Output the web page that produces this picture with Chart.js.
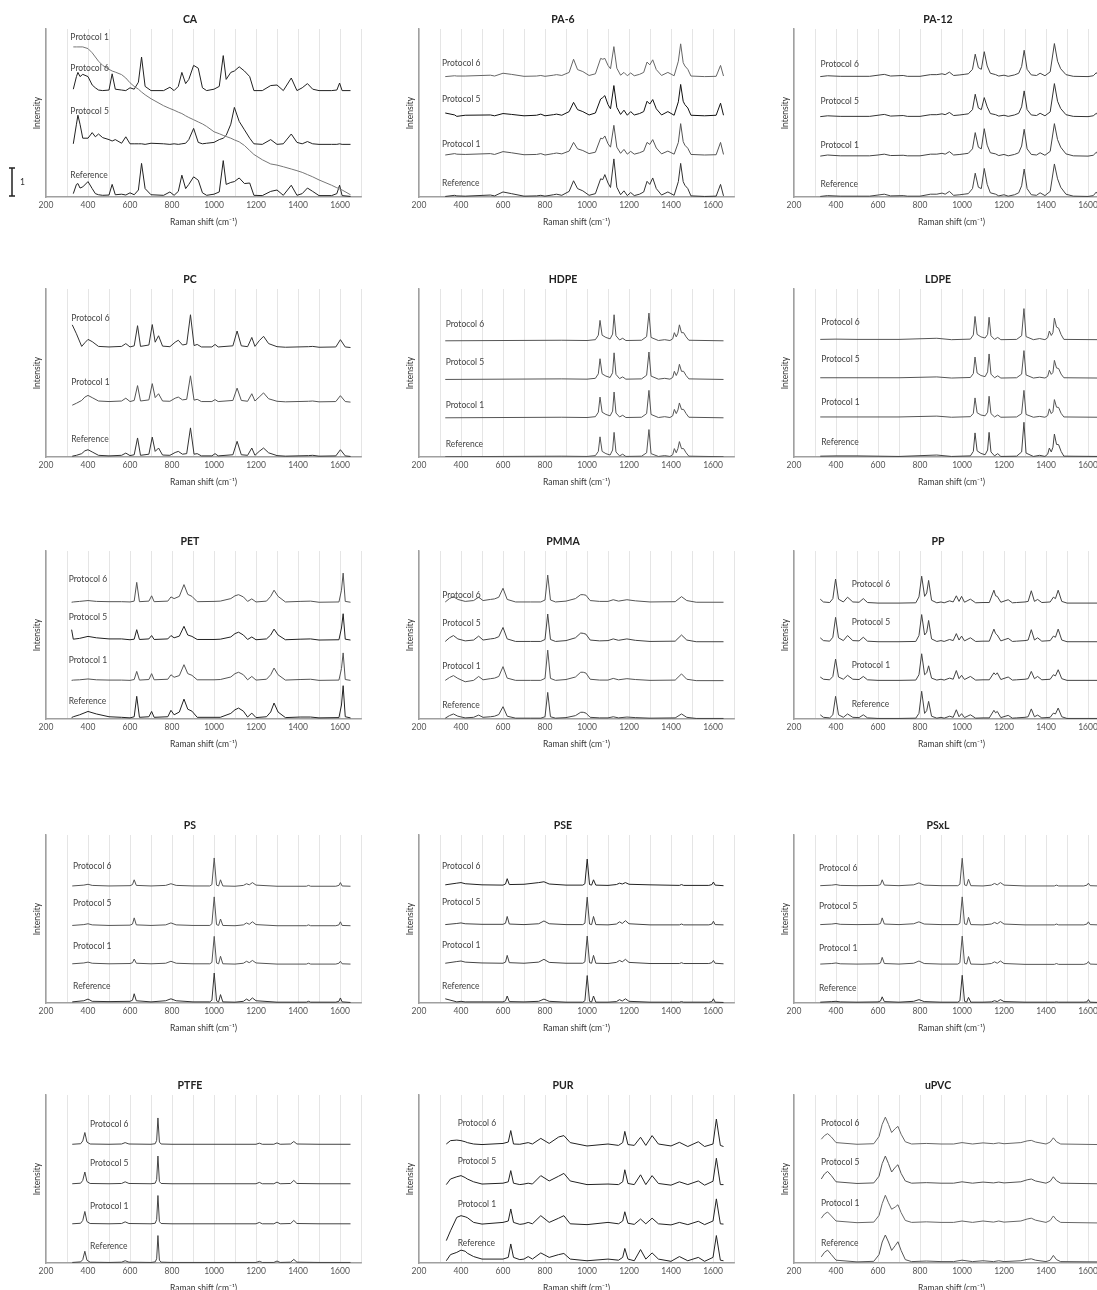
<!DOCTYPE html>
<html lang="en">
<head>
  <meta charset="UTF-8" />
  <title>Raman spectra – protocols vs reference</title>
  <script src="https://cdn.jsdelivr.net/npm/chart.js@4.4.1/dist/chart.umd.min.js"></script>
  <style>
    html, body { margin: 0; padding: 0; background: #fff; }
    body { position: relative; width: 1097px; height: 1290px; overflow: hidden; }
    canvas { position: absolute; }
  </style>
</head>
<body>
<script>
  // ---- data (Raman shift in cm-1, intensity in offset units) ----
  const xTicks = [200, 400, 600, 800, 1000, 1200, 1400, 1600];

  // CA
  const caShift = [330,345,352,362,375,400,420,435,450,470,500,515,530,560,580,600,620,640,655,672,700,760,790,810,830,847,865,880,903,925,945,965,1000,1025,1044,1058,1080,1097,1120,1145,1170,1190,1230,1270,1300,1330,1368,1395,1420,1445,1470,1500,1560,1585,1598,1610,1650];
  const caRef = [0.12,0.45,0.48,0.32,0.36,0.55,0.3,0.12,0.08,0.06,0.07,0.45,0.08,0.1,0.07,0.15,0.08,0.25,1.2,0.3,0.08,0.06,0.18,0.06,0.2,0.78,0.3,0.45,0.72,0.6,0.15,0.06,0.1,0.18,1.3,0.45,0.52,0.55,0.68,0.48,0.5,0.06,0.05,0.2,0.25,0.06,0.42,0.06,0.12,0.32,0.2,0.05,0.05,0.12,0.42,0.05,0.02];
  const caP6 = [3.85,4.3,4.45,4.3,4.38,4.3,4.0,3.9,3.82,3.8,3.82,4.4,3.85,3.82,3.8,3.9,3.85,4.1,5.0,3.95,3.8,3.8,3.92,3.8,3.95,4.45,4.05,4.2,4.7,4.6,3.9,3.8,3.85,3.95,5.05,4.2,4.45,4.5,4.65,4.5,4.3,3.8,3.8,3.98,4.0,3.8,4.25,3.8,3.9,4.05,3.85,3.8,3.8,3.82,4.07,3.8,3.8];
  const caP5 = [1.9,2.6,2.92,2.6,2.1,2.1,2.3,2.15,2.25,2.12,2.05,2.0,2.05,1.92,2.15,1.9,1.9,1.9,1.9,1.88,1.92,1.9,1.88,1.9,1.88,1.9,1.92,2.05,2.45,1.95,1.9,1.92,1.95,2.05,2.1,2.2,2.6,3.2,2.7,2.4,2.1,1.9,1.88,2.05,1.88,1.9,2.25,1.95,1.9,1.98,1.9,1.88,1.88,1.88,1.9,1.88,1.88];
  const caP1 = [5.36,5.36,5.36,5.36,5.36,5.3,5.15,5.0,4.85,4.7,4.56,4.5,4.46,4.37,4.25,4.08,3.95,3.85,3.75,3.65,3.51,3.26,3.16,3.1,3.03,2.98,2.9,2.84,2.76,2.68,2.61,2.52,2.33,2.26,2.2,2.16,2.1,2.04,1.97,1.84,1.66,1.52,1.33,1.18,1.14,1.08,1.0,0.94,0.88,0.8,0.72,0.61,0.42,0.33,0.29,0.25,0.08];

  // PA-6
  const paShift = [325,370,380,420,540,560,600,640,700,760,780,800,840,855,880,915,936,955,980,1010,1040,1065,1075,1085,1100,1112,1128,1142,1160,1176,1192,1208,1225,1250,1270,1286,1299,1313,1330,1355,1385,1415,1435,1446,1458,1466,1480,1495,1560,1615,1636,1650];
  const paRef = [0.02,0.06,0.04,0.03,0.07,0.04,0.18,0.12,0.03,0.04,0.06,0.03,0.08,0.1,0.06,0.2,0.58,0.3,0.22,0.06,0.12,0.65,0.62,0.8,0.5,0.34,1.36,0.35,0.08,0.22,0.05,0.16,0.05,0.1,0.18,0.56,0.45,0.68,0.3,0.07,0.18,0.06,0.55,1.2,0.55,0.42,0.3,0.04,0.02,0.03,0.45,0.04];
  const paP1 = [1.5,1.55,1.53,1.52,1.55,1.52,1.62,1.58,1.51,1.52,1.55,1.5,1.55,1.57,1.54,1.64,1.95,1.72,1.66,1.55,1.6,2.1,2.08,2.18,1.9,1.78,2.56,1.78,1.56,1.7,1.53,1.63,1.53,1.58,1.64,1.95,1.88,2.05,1.75,1.54,1.64,1.53,1.95,2.62,1.98,1.85,1.74,1.52,1.5,1.51,1.95,1.52];
  const paP5 = [3.0,2.93,2.88,2.92,2.93,2.9,2.98,2.95,2.9,2.92,2.96,2.9,2.94,2.96,2.92,3.05,3.38,3.12,3.05,2.93,3.0,3.5,3.55,3.62,3.3,3.15,3.98,3.2,2.95,3.1,2.92,3.05,2.93,2.98,3.05,3.42,3.32,3.48,3.15,2.93,3.05,2.92,3.4,4.02,3.42,3.3,3.18,2.92,2.9,2.92,3.35,2.92];
  const paP6 = [4.3,4.33,4.32,4.32,4.35,4.32,4.42,4.38,4.31,4.32,4.34,4.31,4.35,4.37,4.34,4.45,4.92,4.55,4.48,4.34,4.4,4.95,4.92,4.95,4.7,4.58,5.37,4.6,4.35,4.45,4.33,4.43,4.33,4.38,4.45,4.82,4.72,4.9,4.55,4.34,4.45,4.33,4.85,5.47,4.8,4.68,4.56,4.32,4.3,4.31,4.7,4.32];

  // PA-12
  const pa12Shift = [325,360,420,560,600,630,660,720,740,800,850,880,905,920,940,960,990,1010,1030,1050,1063,1078,1092,1106,1120,1135,1160,1175,1200,1220,1250,1270,1284,1296,1310,1330,1355,1372,1395,1420,1440,1455,1470,1495,1530,1600,1625,1640,1650];
  const pa12Ref = [0.02,0.05,0.03,0.03,0.07,0.1,0.04,0.05,0.03,0.03,0.1,0.1,0.14,0.1,0.2,0.06,0.08,0.1,0.12,0.3,0.85,0.35,0.3,1.02,0.45,0.15,0.1,0.04,0.08,0.03,0.08,0.15,0.4,1.0,0.3,0.08,0.06,0.15,0.05,0.2,1.18,0.65,0.35,0.1,0.03,0.02,0.05,0.18,0.05];
  const pa12P1 = [1.46,1.5,1.47,1.47,1.5,1.53,1.48,1.49,1.47,1.47,1.53,1.53,1.56,1.53,1.62,1.5,1.52,1.54,1.56,1.72,2.3,1.78,1.72,2.44,1.85,1.58,1.54,1.48,1.52,1.47,1.52,1.58,1.82,2.42,1.72,1.52,1.5,1.58,1.49,1.63,2.62,2.05,1.78,1.54,1.47,1.46,1.49,1.6,1.49];
  const pa12P5 = [2.87,2.9,2.88,2.88,2.92,2.95,2.89,2.91,2.88,2.88,2.94,2.94,2.97,2.94,3.02,2.91,2.93,2.95,2.97,3.12,3.67,3.18,3.12,3.55,3.22,2.98,2.94,2.89,2.92,2.88,2.93,2.99,3.22,3.79,3.12,2.93,2.91,2.99,2.9,3.04,4.05,3.42,3.16,2.94,2.88,2.87,2.9,2.99,2.89];
  const pa12P6 = [4.3,4.33,4.31,4.31,4.35,4.38,4.32,4.34,4.31,4.31,4.37,4.37,4.4,4.37,4.46,4.34,4.36,4.38,4.4,4.56,5.1,4.62,4.56,5.19,4.68,4.42,4.37,4.32,4.35,4.31,4.36,4.42,4.66,5.24,4.56,4.36,4.34,4.42,4.33,4.47,5.48,4.85,4.58,4.37,4.31,4.3,4.33,4.44,4.32];

  // PC
  const pcShift = [325,345,370,385,400,420,450,500,560,580,600,620,636,650,690,706,720,736,755,790,815,830,850,870,888,905,920,940,990,1005,1020,1090,1110,1130,1160,1180,1195,1215,1236,1260,1300,1340,1450,1470,1500,1580,1602,1625,1650];
  const pcRef = [0.03,0.06,0.12,0.22,0.26,0.18,0.06,0.04,0.06,0.14,0.05,0.08,0.68,0.06,0.1,0.71,0.2,0.32,0.07,0.06,0.16,0.2,0.1,0.12,1.04,0.1,0.12,0.04,0.04,0.12,0.04,0.08,0.56,0.08,0.06,0.32,0.06,0.2,0.32,0.15,0.05,0.03,0.05,0.06,0.03,0.04,0.26,0.04,0.02];
  const pcP1 = [1.85,1.92,2.02,2.14,2.2,2.12,2.0,1.98,2.0,2.1,1.98,2.02,2.55,2.0,2.04,2.62,2.12,2.26,2.0,1.99,2.1,2.14,2.04,2.06,2.9,2.03,2.06,1.98,1.98,2.05,1.98,2.02,2.46,2.02,1.99,2.26,2.0,2.14,2.29,2.08,1.99,1.97,1.99,2.0,1.97,1.98,2.19,1.98,1.96];
  const pcP6 = [4.72,4.4,3.95,4.08,4.2,4.12,3.95,3.93,3.95,4.05,3.93,3.97,4.69,3.95,4.0,4.73,4.1,4.33,3.96,3.94,4.1,4.17,4.0,4.03,5.08,3.98,4.02,3.93,3.93,4.02,3.93,3.97,4.5,3.97,3.94,4.27,3.95,4.15,4.31,4.05,3.94,3.92,3.94,3.95,3.92,3.93,4.19,3.93,3.91];

  // HDPE
  const hdShift = [325,600,880,1000,1040,1054,1062,1072,1090,1110,1122,1129,1138,1155,1170,1185,1260,1284,1295,1305,1340,1370,1395,1408,1416,1425,1433,1440,1450,1460,1472,1485,1650];
  const hdRef = [0.01,0.02,0.03,0.02,0.05,0.2,0.72,0.2,0.12,0.07,0.25,0.88,0.18,0.04,0.1,0.02,0.03,0.15,0.98,0.12,0.02,0.05,0.02,0.08,0.3,0.15,0.3,0.55,0.3,0.3,0.15,0.03,0.01];
  const hdP1 = [1.4,1.41,1.42,1.41,1.44,1.6,2.14,1.6,1.52,1.47,1.64,2.32,1.57,1.43,1.49,1.41,1.42,1.55,2.38,1.52,1.41,1.44,1.41,1.47,1.7,1.55,1.68,1.93,1.7,1.7,1.55,1.42,1.4];
  const hdP5 = [2.77,2.78,2.79,2.78,2.81,2.97,3.51,2.97,2.89,2.84,3.01,3.72,2.95,2.8,2.86,2.78,2.79,2.92,3.75,2.89,2.78,2.81,2.78,2.84,3.06,2.91,3.04,3.31,3.06,3.06,2.91,2.79,2.77];
  const hdP6 = [4.15,4.16,4.17,4.16,4.19,4.35,4.88,4.35,4.27,4.22,4.39,5.08,4.33,4.18,4.24,4.16,4.17,4.3,5.14,4.27,4.16,4.19,4.16,4.22,4.44,4.29,4.42,4.72,4.44,4.44,4.29,4.17,4.15];

  // LDPE
  const ldShift = [325,400,500,700,880,950,1040,1054,1062,1072,1090,1110,1122,1129,1138,1155,1170,1185,1260,1284,1295,1305,1340,1370,1395,1408,1416,1425,1433,1440,1450,1460,1472,1485,1650];
  const ldRef = [0.03,0.04,0.04,0.02,0.07,0.02,0.04,0.2,0.86,0.22,0.13,0.08,0.25,0.88,0.18,0.04,0.12,0.02,0.03,0.18,1.24,0.14,0.02,0.06,0.02,0.1,0.32,0.18,0.35,0.82,0.45,0.44,0.2,0.03,0.02];
  const ldP1 = [1.43,1.43,1.43,1.43,1.46,1.42,1.44,1.56,2.11,1.58,1.5,1.47,1.6,2.17,1.55,1.43,1.5,1.42,1.43,1.55,2.38,1.52,1.42,1.45,1.42,1.48,1.72,1.55,1.62,2.05,1.78,1.77,1.56,1.43,1.42];
  const ldP5 = [2.83,2.83,2.83,2.83,2.86,2.82,2.84,2.98,3.57,3.0,2.91,2.87,3.04,3.68,2.96,2.83,2.9,2.82,2.83,2.96,3.8,2.93,2.82,2.85,2.82,2.88,3.1,2.95,3.02,3.45,3.18,3.16,2.96,2.83,2.82];
  const ldP6 = [4.2,4.21,4.2,4.2,4.24,4.19,4.21,4.36,5.02,4.38,4.29,4.25,4.38,4.99,4.33,4.2,4.27,4.19,4.2,4.33,5.3,4.3,4.19,4.23,4.19,4.26,4.5,4.34,4.44,4.96,4.64,4.6,4.37,4.2,4.19];

  // PET
  const petShift = [322,330,360,400,440,500,560,600,620,632,645,690,703,715,780,795,810,835,857,875,895,920,1000,1030,1080,1100,1117,1140,1160,1180,1200,1250,1270,1286,1305,1340,1410,1460,1500,1595,1607,1615,1625,1650];
  const petRef = [0.05,0.08,0.15,0.27,0.18,0.08,0.06,0.04,0.08,0.81,0.06,0.08,0.27,0.06,0.08,0.31,0.15,0.25,0.71,0.35,0.28,0.06,0.06,0.06,0.2,0.33,0.39,0.28,0.07,0.21,0.05,0.08,0.25,0.57,0.25,0.05,0.07,0.07,0.04,0.05,0.5,1.19,0.08,0.04];
  const petP1 = [1.38,1.39,1.4,1.43,1.4,1.39,1.39,1.38,1.41,1.7,1.39,1.41,1.62,1.4,1.42,1.58,1.49,1.55,1.94,1.62,1.56,1.4,1.4,1.41,1.5,1.62,1.67,1.58,1.4,1.52,1.39,1.42,1.58,1.82,1.58,1.39,1.41,1.42,1.38,1.39,1.8,2.36,1.41,1.38];
  const petP5 = [3.19,2.85,2.88,2.95,2.9,2.86,2.86,2.83,2.85,3.19,2.84,2.86,2.98,2.84,2.86,2.98,2.9,2.96,3.31,3.0,2.95,2.84,2.84,2.85,2.93,3.05,3.1,3.0,2.84,2.93,2.83,2.86,3.0,3.21,3.0,2.83,2.85,2.86,2.82,2.83,3.25,3.76,2.85,2.82];
  const petP6 = [4.17,4.18,4.2,4.23,4.2,4.19,4.19,4.18,4.21,4.88,4.19,4.21,4.4,4.19,4.21,4.36,4.3,4.38,4.8,4.45,4.38,4.19,4.2,4.21,4.3,4.4,4.44,4.36,4.2,4.29,4.18,4.21,4.38,4.6,4.38,4.18,4.2,4.21,4.17,4.18,4.6,5.21,4.2,4.17];

  // PMMA
  const pmShift = [325,345,364,385,420,460,484,505,540,560,580,600,620,660,730,780,800,813,826,850,900,945,970,982,995,1015,1060,1100,1125,1150,1190,1230,1300,1420,1450,1475,1520,1650];
  const pmRef = [0.03,0.12,0.18,0.1,0.04,0.06,0.14,0.06,0.08,0.1,0.16,0.44,0.1,0.03,0.03,0.03,0.08,0.95,0.08,0.03,0.05,0.12,0.24,0.24,0.21,0.06,0.04,0.04,0.08,0.04,0.07,0.05,0.03,0.04,0.18,0.06,0.02,0.02];
  const pmP1 = [1.38,1.48,1.55,1.45,1.33,1.38,1.52,1.4,1.44,1.46,1.52,1.87,1.46,1.38,1.38,1.38,1.45,2.46,1.45,1.38,1.41,1.5,1.67,1.67,1.64,1.42,1.39,1.39,1.45,1.4,1.44,1.41,1.38,1.39,1.61,1.42,1.37,1.37];
  const pmP5 = [2.77,2.9,2.98,2.86,2.79,2.82,2.96,2.82,2.86,2.88,2.94,3.27,2.86,2.77,2.77,2.77,2.84,3.75,2.84,2.77,2.8,2.9,3.07,3.06,3.03,2.82,2.79,2.8,2.86,2.81,2.86,2.81,2.77,2.78,3.0,2.82,2.76,2.76];
  const pmP6 = [4.18,4.3,4.37,4.27,4.2,4.23,4.35,4.23,4.27,4.29,4.35,4.67,4.27,4.18,4.18,4.18,4.25,5.14,4.25,4.18,4.21,4.3,4.44,4.44,4.42,4.23,4.2,4.2,4.26,4.21,4.26,4.22,4.18,4.19,4.37,4.23,4.17,4.17];

  // PP
  const ppShift = [325,340,370,385,398,412,435,455,480,510,530,550,600,700,780,795,808,822,832,841,855,880,900,915,941,958,973,986,998,1012,1040,1065,1100,1130,1152,1160,1168,1185,1220,1240,1260,1300,1315,1330,1345,1360,1380,1420,1435,1445,1458,1475,1500,1650];
  const ppRef = [0.15,0.06,0.04,0.15,0.81,0.15,0.06,0.18,0.06,0.05,0.15,0.04,0.02,0.02,0.03,0.2,0.99,0.2,0.3,0.63,0.1,0.03,0.06,0.03,0.1,0.06,0.33,0.08,0.19,0.05,0.15,0.03,0.04,0.04,0.31,0.22,0.27,0.05,0.13,0.03,0.04,0.06,0.08,0.36,0.08,0.14,0.04,0.06,0.21,0.18,0.39,0.08,0.02,0.02];
  const ppP1 = [1.5,1.42,1.4,1.52,2.14,1.5,1.42,1.56,1.42,1.41,1.52,1.4,1.38,1.38,1.39,1.58,2.33,1.58,1.65,1.9,1.46,1.39,1.42,1.39,1.46,1.42,1.73,1.44,1.56,1.41,1.52,1.39,1.4,1.4,1.65,1.58,1.65,1.41,1.5,1.39,1.4,1.42,1.44,1.7,1.44,1.52,1.4,1.42,1.58,1.54,1.76,1.44,1.38,1.38];
  const ppP5 = [2.9,2.8,2.78,2.92,3.63,2.9,2.8,2.98,2.8,2.79,2.92,2.78,2.76,2.76,2.77,2.98,3.73,3.0,3.1,3.52,2.86,2.77,2.8,2.77,2.84,2.8,3.05,2.82,2.96,2.79,2.9,2.77,2.78,2.78,3.21,3.05,3.0,2.79,2.88,2.77,2.78,2.8,2.82,3.19,2.82,2.9,2.78,2.8,2.96,2.92,3.21,2.82,2.76,2.76];
  const ppP6 = [4.28,4.18,4.16,4.3,5.0,4.28,4.18,4.35,4.18,4.17,4.3,4.16,4.14,4.14,4.15,4.36,5.1,4.38,4.5,4.95,4.24,4.15,4.18,4.15,4.22,4.18,4.4,4.2,4.38,4.17,4.28,4.15,4.16,4.16,4.6,4.4,4.38,4.17,4.26,4.15,4.16,4.18,4.2,4.58,4.2,4.27,4.16,4.18,4.35,4.3,4.6,4.2,4.14,4.14];

  // PS, PSE, PSxL (same shift grid)
  const psShift = [325,380,400,420,500,600,612,620,630,700,770,795,820,900,980,990,1001,1012,1022,1031,1042,1100,1140,1155,1168,1183,1200,1300,1440,1450,1460,1580,1595,1602,1610,1650];
  const psRef = [0.04,0.08,0.14,0.06,0.05,0.06,0.1,0.33,0.08,0.04,0.08,0.15,0.08,0.04,0.04,0.1,1.07,0.08,0.04,0.3,0.04,0.03,0.06,0.14,0.08,0.18,0.08,0.03,0.03,0.06,0.03,0.03,0.06,0.18,0.04,0.02];
  const psP1 = [1.4,1.43,1.46,1.42,1.4,1.41,1.44,1.57,1.42,1.4,1.42,1.49,1.42,1.4,1.4,1.45,2.38,1.43,1.4,1.67,1.4,1.39,1.42,1.49,1.44,1.52,1.43,1.39,1.39,1.42,1.39,1.39,1.42,1.49,1.4,1.39];
  const psP5 = [2.77,2.8,2.83,2.79,2.77,2.78,2.82,3.04,2.79,2.77,2.79,2.86,2.79,2.77,2.77,2.83,3.79,2.8,2.77,3.0,2.77,2.76,2.79,2.86,2.81,2.9,2.8,2.76,2.76,2.79,2.76,2.76,2.79,2.9,2.77,2.76];
  const psP6 = [4.18,4.21,4.24,4.2,4.18,4.19,4.23,4.4,4.2,4.18,4.2,4.26,4.2,4.18,4.18,4.23,5.18,4.21,4.18,4.4,4.18,4.17,4.2,4.26,4.22,4.3,4.21,4.17,4.17,4.2,4.17,4.17,4.2,4.3,4.18,4.17];
  const pseRef = [0.15,0.04,0.06,0.04,0.04,0.04,0.08,0.25,0.05,0.04,0.06,0.14,0.06,0.03,0.03,0.08,0.98,0.06,0.03,0.25,0.03,0.03,0.05,0.12,0.07,0.15,0.06,0.03,0.03,0.05,0.03,0.03,0.05,0.15,0.03,0.02];
  const pseP1 = [1.42,1.48,1.5,1.46,1.43,1.42,1.46,1.7,1.44,1.42,1.46,1.56,1.45,1.42,1.42,1.47,2.39,1.44,1.42,1.7,1.42,1.41,1.45,1.52,1.47,1.56,1.45,1.41,1.41,1.44,1.41,1.41,1.44,1.52,1.42,1.4];
  const pseP5 = [2.8,2.84,2.86,2.83,2.81,2.81,2.85,3.09,2.82,2.8,2.83,2.93,2.83,2.8,2.8,2.85,3.78,2.82,2.8,3.09,2.8,2.79,2.82,2.9,2.84,2.94,2.83,2.79,2.79,2.82,2.79,2.79,2.82,2.92,2.8,2.79];
  const pseP6 = [4.22,4.28,4.3,4.26,4.22,4.21,4.25,4.44,4.23,4.24,4.3,4.33,4.25,4.21,4.21,4.26,5.14,4.23,4.21,4.4,4.21,4.2,4.23,4.28,4.25,4.3,4.24,4.22,4.2,4.23,4.2,4.2,4.23,4.32,4.21,4.19];
  const psxRef = [0.03,0.05,0.06,0.04,0.03,0.04,0.07,0.22,0.05,0.03,0.06,0.12,0.05,0.03,0.03,0.08,0.99,0.06,0.03,0.2,0.03,0.03,0.04,0.08,0.05,0.12,0.05,0.03,0.03,0.04,0.03,0.03,0.04,0.12,0.03,0.02];
  const psxP1 = [1.39,1.41,1.43,1.4,1.39,1.4,1.43,1.63,1.41,1.39,1.42,1.5,1.41,1.39,1.39,1.44,2.39,1.42,1.39,1.66,1.39,1.38,1.41,1.47,1.42,1.5,1.41,1.38,1.38,1.41,1.38,1.38,1.41,1.48,1.39,1.38];
  const psxP5 = [2.8,2.82,2.84,2.81,2.8,2.81,2.84,3.04,2.82,2.8,2.83,2.9,2.82,2.8,2.8,2.85,3.79,2.83,2.8,3.06,2.8,2.79,2.82,2.88,2.83,2.91,2.82,2.79,2.79,2.82,2.79,2.79,2.82,2.9,2.8,2.79];
  const psxP6 = [4.19,4.21,4.23,4.2,4.19,4.2,4.23,4.4,4.21,4.19,4.22,4.29,4.21,4.19,4.19,4.24,5.17,4.22,4.19,4.42,4.19,4.18,4.21,4.27,4.22,4.3,4.21,4.18,4.18,4.21,4.18,4.18,4.21,4.28,4.19,4.18];

  // PTFE
  const ptShift = [325,365,375,385,395,410,500,560,577,595,700,720,727,733,740,748,800,1000,1200,1216,1230,1285,1300,1315,1365,1380,1395,1500,1650];
  const ptRef = [0.02,0.04,0.12,0.42,0.1,0.03,0.02,0.03,0.08,0.03,0.02,0.04,0.15,0.98,0.1,0.03,0.02,0.02,0.02,0.06,0.02,0.02,0.07,0.02,0.03,0.13,0.03,0.02,0.02];
  const ptP1 = [1.4,1.42,1.52,1.84,1.48,1.41,1.4,1.41,1.47,1.41,1.4,1.42,1.55,2.41,1.48,1.41,1.4,1.4,1.4,1.45,1.4,1.4,1.46,1.4,1.41,1.52,1.41,1.4,1.4];
  const ptP5 = [2.83,2.85,2.95,3.25,2.91,2.84,2.83,2.84,2.9,2.84,2.83,2.85,2.98,3.82,2.91,2.84,2.83,2.83,2.83,2.88,2.83,2.83,2.89,2.83,2.84,2.95,2.84,2.83,2.83];
  const ptP6 = [4.24,4.26,4.36,4.66,4.32,4.25,4.24,4.25,4.3,4.25,4.24,4.26,4.38,5.18,4.32,4.25,4.24,4.24,4.24,4.28,4.24,4.24,4.29,4.24,4.25,4.34,4.25,4.24,4.24];

  // PUR
  const purShift = [330,350,380,400,420,430,460,500,600,625,637,650,680,700,720,740,780,820,865,890,920,1000,1100,1150,1170,1180,1195,1225,1255,1280,1310,1340,1400,1440,1480,1530,1560,1600,1616,1635,1650];
  const purRef = [0.08,0.3,0.38,0.46,0.42,0.35,0.23,0.14,0.14,0.2,0.68,0.2,0.12,0.14,0.23,0.14,0.36,0.2,0.3,0.34,0.14,0.08,0.14,0.1,0.2,0.52,0.14,0.08,0.48,0.14,0.36,0.14,0.06,0.23,0.08,0.2,0.06,0.2,0.98,0.1,0.08];
  const purP1 = [0.8,1.15,1.63,1.69,1.65,1.62,1.45,1.39,1.45,1.5,1.93,1.45,1.38,1.4,1.45,1.4,1.69,1.45,1.6,1.69,1.4,1.37,1.45,1.4,1.5,1.83,1.42,1.38,1.57,1.4,1.6,1.4,1.36,1.45,1.37,1.49,1.37,1.5,2.29,1.4,1.39];
  const purP5 = [2.8,3.0,3.08,3.12,3.05,3.0,2.9,2.82,2.85,2.9,3.3,2.85,2.8,2.82,2.85,2.82,3.12,2.93,3.1,3.2,2.93,2.8,2.82,2.8,2.9,3.33,2.84,2.8,3.15,2.8,3.12,2.84,2.78,2.9,2.8,2.93,2.78,2.92,3.74,2.8,2.8];
  const purP6 = [4.25,4.37,4.39,4.37,4.33,4.3,4.25,4.23,4.27,4.32,4.73,4.25,4.24,4.27,4.3,4.25,4.45,4.27,4.5,4.55,4.3,4.18,4.25,4.2,4.3,4.7,4.23,4.2,4.49,4.2,4.55,4.25,4.18,4.31,4.16,4.33,4.16,4.25,5.14,4.2,4.16];

  // uPVC
  const upShift = [330,345,360,378,400,500,580,605,620,635,650,665,682,695,710,730,760,830,900,960,1000,1050,1100,1150,1175,1200,1280,1310,1330,1350,1400,1420,1435,1450,1470,1650];
  const upRef = [0.22,0.38,0.46,0.3,0.1,0.04,0.06,0.3,0.75,1.0,0.75,0.45,0.62,0.76,0.45,0.12,0.05,0.07,0.05,0.05,0.1,0.05,0.08,0.05,0.08,0.05,0.08,0.13,0.15,0.1,0.05,0.1,0.27,0.12,0.05,0.04];
  const upP1 = [1.6,1.75,1.82,1.68,1.5,1.44,1.46,1.7,2.12,2.42,2.15,1.92,2.0,2.08,1.8,1.52,1.45,1.47,1.45,1.45,1.5,1.45,1.5,1.46,1.5,1.46,1.5,1.57,1.6,1.53,1.45,1.52,1.68,1.54,1.45,1.43];
  const upP5 = [3.0,3.18,3.27,3.12,2.9,2.84,2.86,3.1,3.55,3.82,3.55,3.25,3.42,3.51,3.2,2.93,2.85,2.87,2.85,2.85,2.9,2.85,2.89,2.86,2.89,2.86,2.9,2.97,3.0,2.93,2.85,2.92,3.08,2.94,2.85,2.83];
  const upP6 = [4.42,4.55,4.62,4.5,4.3,4.24,4.26,4.52,4.95,5.21,4.95,4.66,4.8,4.88,4.6,4.33,4.25,4.27,4.25,4.25,4.3,4.25,4.29,4.26,4.29,4.26,4.3,4.36,4.38,4.32,4.25,4.32,4.47,4.33,4.25,4.23];

  // ---- panels: [trace name, values, label height, line colour] ----
  const panels = [
    { title: 'CA', shift: caShift, labelX: 316, bar: true, traces: [
      ['Protocol 1', caP1, 5.69, '#777'], ['Protocol 6', caP6, 4.58, '#222'],
      ['Protocol 5', caP5, 3.06, '#222'], ['Reference', caRef, 0.77, '#222']] },
    { title: 'PA-6', shift: paShift, labelX: 310, traces: [
      ['Protocol 6', paP6, 4.79, '#666'], ['Protocol 5', paP5, 3.48, '#111'],
      ['Protocol 1', paP1, 1.9, '#555'], ['Reference', paRef, 0.5, '#333']] },
    { title: 'PA-12', shift: pa12Shift, labelX: 326, traces: [
      ['Protocol 6', pa12P6, 4.74, '#444'], ['Protocol 5', pa12P5, 3.43, '#333'],
      ['Protocol 1', pa12P1, 1.86, '#444'], ['Reference', pa12Ref, 0.45, '#444']] },
    { title: 'PC', shift: pcShift, labelX: 320, traces: [
      ['Protocol 6', pcP6, 4.96, '#333'], ['Protocol 1', pcP1, 2.67, '#555'],
      ['Reference', pcRef, 0.64, '#333']] },
    { title: 'HDPE', shift: hdShift, labelX: 327, traces: [
      ['Protocol 6', hdP6, 4.73, '#555'], ['Protocol 5', hdP5, 3.39, '#555'],
      ['Protocol 1', hdP1, 1.85, '#555'], ['Reference', hdRef, 0.44, '#555']] },
    { title: 'LDPE', shift: ldShift, labelX: 330, traces: [
      ['Protocol 6', ldP6, 4.82, '#555'], ['Protocol 5', ldP5, 3.5, '#555'],
      ['Protocol 1', ldP1, 1.95, '#555'], ['Reference', ldRef, 0.52, '#444']] },
    { title: 'PET', shift: petShift, labelX: 308, traces: [
      ['Protocol 6', petP6, 4.98, '#555'], ['Protocol 5', petP5, 3.63, '#222'],
      ['Protocol 1', petP1, 2.08, '#555'], ['Reference', petRef, 0.65, '#222']] },
    { title: 'PMMA', shift: pmShift, labelX: 311, traces: [
      ['Protocol 6', pmP6, 4.43, '#555'], ['Protocol 5', pmP5, 3.42, '#444'],
      ['Protocol 1', pmP1, 1.88, '#555'], ['Reference', pmRef, 0.48, '#444']] },
    { title: 'PP', shift: ppShift, labelX: 475, traces: [
      ['Protocol 6', ppP6, 4.8, '#444'], ['Protocol 5', ppP5, 3.45, '#444'],
      ['Protocol 1', ppP1, 1.92, '#444'], ['Reference', ppRef, 0.51, '#444']] },
    { title: 'PS', shift: psShift, labelX: 329, traces: [
      ['Protocol 6', psP6, 4.88, '#555'], ['Protocol 5', psP5, 3.57, '#555'],
      ['Protocol 1', psP1, 2.02, '#555'], ['Reference', psRef, 0.6, '#333']] },
    { title: 'PSE', shift: psShift, labelX: 310, traces: [
      ['Protocol 6', pseP6, 4.9, '#222'], ['Protocol 5', pseP5, 3.6, '#444'],
      ['Protocol 1', pseP1, 2.05, '#444'], ['Reference', pseRef, 0.6, '#333']] },
    { title: 'PSxL', shift: psShift, labelX: 319, traces: [
      ['Protocol 6', psxP6, 4.8, '#555'], ['Protocol 5', psxP5, 3.46, '#555'],
      ['Protocol 1', psxP1, 1.94, '#555'], ['Reference', psxRef, 0.51, '#333']] },
    { title: 'PTFE', shift: ptShift, labelX: 410, traces: [
      ['Protocol 6', ptP6, 4.94, '#444'], ['Protocol 5', ptP5, 3.57, '#444'],
      ['Protocol 1', ptP1, 2.02, '#444'], ['Reference', ptRef, 0.6, '#444']] },
    { title: 'PUR', shift: purShift, labelX: 384, traces: [
      ['Protocol 6', purP6, 4.99, '#222'], ['Protocol 5', purP5, 3.65, '#222'],
      ['Protocol 1', purP1, 2.1, '#222'], ['Reference', purRef, 0.7, '#222']] },
    { title: 'uPVC', shift: upShift, labelX: 329, traces: [
      ['Protocol 6', upP6, 4.98, '#666'], ['Protocol 5', upP5, 3.6, '#555'],
      ['Protocol 1', upP1, 2.15, '#666'], ['Reference', upRef, 0.69, '#555']] }
  ];

  // where each panel's axes cross (page px)
  const colX = [46, 419, 794];
  const rowY = [197, 457, 719, 1003, 1263];

  const FONT = 'Lato, "Open Sans", sans-serif';
  Chart.defaults.font.family = FONT;

  // panel title, trace names inside the plot, and the "1" intensity bar on CA
  const labelPlugin = {
    id: 'traceLabels',
    afterDatasetsDraw(chart, args, opts) {
      const { ctx, chartArea, scales: { x, y } } = chart;
      ctx.save();
      ctx.fillStyle = '#222';
      ctx.textAlign = 'center';
      ctx.textBaseline = 'middle';
      ctx.font = 'bold 10.5px ' + FONT;
      ctx.fillText(opts.title, chartArea.left + 144, chartArea.top - 9);

      ctx.textAlign = 'left';
      ctx.font = '8.5px ' + FONT;
      ctx.fillStyle = '#444';
      opts.items.forEach(it => ctx.fillText(it.text, x.getPixelForValue(it.x), y.getPixelForValue(it.y)));
      if (opts.bar) {
        const bx = chartArea.left - 34;
        const y0 = y.getPixelForValue(0.04), y1 = y.getPixelForValue(1.04);
        ctx.strokeStyle = '#222';
        ctx.lineWidth = 1.5;
        ctx.beginPath();
        ctx.moveTo(bx, y0); ctx.lineTo(bx, y1);
        ctx.moveTo(bx - 3, y0); ctx.lineTo(bx + 3, y0);
        ctx.moveTo(bx - 3, y1); ctx.lineTo(bx + 3, y1);
        ctx.stroke();
        ctx.fillStyle = '#333';
        ctx.fillText('1', bx + 8, (y0 + y1) / 2);
      }
      ctx.restore();
    }
  };

  panels.forEach((p, i) => {
    const ax = colX[i % 3], ay = rowY[Math.floor(i / 3)];
    const cv = document.createElement('canvas');
    cv.width = 375;
    cv.height = 214;
    cv.style.left = (ax - 54) + 'px';
    cv.style.top = (ay - 184) + 'px';
    document.body.appendChild(cv);

    new Chart(cv, {
      type: 'scatter',
      data: {
        datasets: p.traces.map(t => ({
          label: t[0],
          data: p.shift.map((s, k) => ({ x: s, y: t[1][k] })),
          showLine: true,
          borderColor: t[3],
          borderWidth: 1,
          pointRadius: 0,
          tension: 0
        }))
      },
      options: {
        responsive: false,
        animation: false,
        events: [],
        layout: { padding: { left: 40, right: 6, top: 16, bottom: 0 } },
        plugins: {
          legend: { display: false },
          tooltip: { enabled: false },
          title: { display: false },
          traceLabels: {
            title: p.title,
            bar: !!p.bar,
            items: p.traces.map(t => ({ text: t[0], x: p.labelX, y: t[2] }))
          }
        },
        scales: {
          x: {
            type: 'linear', min: 200, max: 1700,
            afterFit: s => { s.height = 30; },
            ticks: {
              stepSize: 100, autoSkip: false, maxRotation: 0, padding: 3,
              color: '#555', font: { size: 8.5 },
              callback: v => xTicks.includes(v) ? v : ''
            },
            grid: { color: '#dedede', lineWidth: 0.8, drawTicks: false },
            border: { color: '#a0a0a0', width: 1.5 },
            title: { display: true, text: 'Raman shift (cm⁻¹)', color: '#333', font: { size: 8.5 }, padding: 0 }
          },
          y: {
            min: 0, max: 6,
            afterFit: s => { s.width = 14; },
            ticks: { display: false },
            grid: { display: false, drawTicks: false },
            border: { color: '#a0a0a0', width: 1.5 },
            title: { display: true, text: 'Intensity', color: '#333', font: { size: 8.5 }, padding: 0 }
          }
        }
      },
      plugins: [labelPlugin]
    });
  });
</script>
</body>
</html>
